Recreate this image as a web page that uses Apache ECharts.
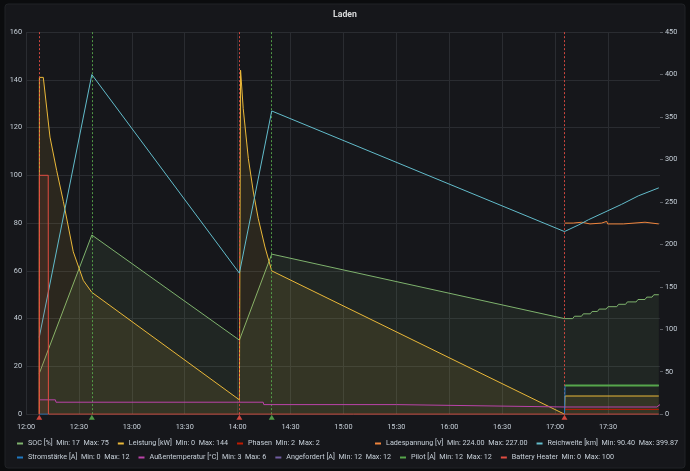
<!DOCTYPE html>
<html>
<head>
<meta charset="utf-8">
<script src="https://cdn.jsdelivr.net/npm/echarts@6/dist/echarts.min.js"></script>
<style>
  html, body { margin: 0; padding: 0; background: #0b0c0e; }
  #chart { width: 690px; height: 471px; }
</style>
</head>
<body>
<div id="chart"></div>
<script>
// times are clock times of the day
var socTime = ['12:07:30', '12:37:20', '14:01:00', '14:19:20', '17:05:20', '17:10:00', '17:11:00', '17:15:00', '17:16:00',
  '17:20:00', '17:21:00', '17:24:00', '17:25:00', '17:29:00', '17:30:00', '17:35:00', '17:36:00', '17:40:00', '17:41:00',
  '17:46:00', '17:47:00', '17:51:00', '17:52:00', '17:55:00', '17:56:00', '17:58:50'];
var socValues = [17, 75, 31, 67, 40, 40, 41, 41, 42, 42, 43, 43, 44, 44, 45, 45, 46, 46, 47, 47, 48, 48, 49, 49, 50, 50];

var leistungTime = ['12:07:30', '12:07:36', '12:09:48', '12:13:36', '12:17:24', '12:21:12', '12:26:48', '12:32:30', '12:37:20',
  '14:01:00', '14:01:40', '14:03:10', '14:06:05', '14:08:55', '14:11:40', '14:15:30', '14:19:20', '17:05:20', '17:05:40', '17:58:50'];
var leistungValues = [0, 141, 141, 116, 102, 89, 68, 56, 51, 6, 144, 128, 107, 93, 82, 70, 60, 0, 7.6, 7.6];

var phasenTime = ['17:05:20', '17:58:50'];
var phasenValues = [2, 2];

var spannungTime = ['17:05:30', '17:10:18', '17:10:48', '17:15:06', '17:15:36', '17:19:48', '17:20:18', '17:26:24', '17:26:54',
  '17:29:18', '17:29:48', '17:38:42', '17:39:12', '17:51:00', '17:51:30', '17:58:48'];
var spannungValues = [225, 225, 226, 226, 224, 224, 225, 225, 227, 227, 224, 224, 226, 226, 224, 224];

var reichweiteTime = ['12:07:30', '12:37:20', '14:01:00', '14:19:20', '17:05:20', '17:13:30', '17:19:00', '17:28:20', '17:37:40', '17:47:10', '17:58:50'];
var reichweiteValues = [90.4, 399.87, 166, 357, 215, 223, 229, 238, 247, 257, 266.5];

var stromTime = ['12:07:30', '12:12:30', '12:13:00', '17:05:20', '17:05:40', '17:58:50'];
var stromValues = [0, 0, null, 0, 12, 12];

var tempTime = ['12:07:30', '12:16:40', '12:17:00', '14:14:30', '14:14:50', '15:30:00', '17:05:20', '17:57:40', '17:59:30'];
var tempValues = [6, 6, 5, 5, 4, 4, 3, 3, 4];

var angefordertTime = ['17:05:40', '17:58:50'];
var angefordertValues = [12, 12];

var pilotTime = ['17:05:40', '17:58:50'];
var pilotValues = [12, 12];

var heaterTime = ['12:07:30', '12:07:36', '12:12:36', '12:12:42', '17:58:50'];
var heaterValues = [0, 100, 100, 0, 0];

// annotations: charging start / end
var annotationTime = ['12:07:30', '12:37:20', '14:01:00', '14:19:20', '17:05:20'];
var annotationKind = ['start', 'end', 'start', 'end', 'start'];

// left axis series flow from the left, right axis series sit at the right end
var legendLeft1 = ['SOC [%]', 'Leistung [kW]', 'Phasen'];
var legendRight1 = ['Ladespannung [V]', 'Reichweite [km]'];
var legendLeft2 = ['Stromstärke [A]', 'Außentemperatur [°C]', 'Angefordert [A]', 'Pilot [A]', 'Battery Heater'];

function tm (s) {
  var p = s.split(':').map(Number);
  return (p[0] - 12) * 60 + p[1] + (p[2] || 0) / 60;
}
function pairs (times, values) {
  return times.map(function (t, i) { return [tm(t), values[i] === null ? '-' : values[i]]; });
}

var defs = [
  { name: 'SOC [%]', t: socTime, v: socValues, color: '#7EB26D', fill: true, axis: 0, dec: 0 },
  { name: 'Leistung [kW]', t: leistungTime, v: leistungValues, color: '#EAB839', fill: true, axis: 0, dec: 0 },
  { name: 'Phasen', t: phasenTime, v: phasenValues, color: '#BF1B00', fill: false, axis: 0, dec: 0 },
  { name: 'Ladespannung [V]', t: spannungTime, v: spannungValues, color: '#EF843C', fill: false, axis: 1, dec: 2 },
  { name: 'Reichweite [km]', t: reichweiteTime, v: reichweiteValues, color: '#62BCCB', fill: false, axis: 1, dec: 2 },
  { name: 'Stromstärke [A]', t: stromTime, v: stromValues, color: '#1F78C1', fill: false, axis: 0, dec: 0 },
  { name: 'Außentemperatur [°C]', t: tempTime, v: tempValues, color: '#BA43A9', fill: false, axis: 0, dec: 0 },
  { name: 'Angefordert [A]', t: angefordertTime, v: angefordertValues, color: '#705DA0', fill: false, axis: 0, dec: 0 },
  { name: 'Pilot [A]', t: pilotTime, v: pilotValues, color: '#56A64B', fill: false, axis: 0, dec: 0, width: 1.8 },
  { name: 'Battery Heater', t: heaterTime, v: heaterValues, color: '#E24D42', fill: true, axis: 0, dec: 0 }
];

var stats = {};
defs.forEach(function (d) {
  var vals = d.v.filter(function (x) { return x !== null; });
  stats[d.name] = 'Min: ' + Math.min.apply(null, vals).toFixed(d.dec) + '  Max: ' + Math.max.apply(null, vals).toFixed(d.dec);
});

var series = defs.map(function (d, i) {
  return {
    name: d.name,
    type: 'line',
    z: 2 + i,
    yAxisIndex: d.axis,
    data: pairs(d.t, d.v),
    symbol: 'none',
    connectNulls: false,
    color: d.color,
    lineStyle: { width: d.width || 1, color: d.color },
    areaStyle: d.fill ? { color: d.color, opacity: 0.1 } : undefined,
    emphasis: { disabled: true }
  };
});

var annColor = { start: 'rgba(226,77,66,0.9)', end: 'rgba(86,166,75,0.9)' };
series[0].markLine = {
  silent: true,
  symbol: 'none',
  label: { show: false },
  data: annotationTime.map(function (t, i) {
    return { xAxis: tm(t), lineStyle: { color: annColor[annotationKind[i]], width: 1, type: [2, 2] } };
  })
};
series[0].markPoint = {
  silent: true,
  symbol: 'triangle',
  symbolSize: [6, 5],
  symbolOffset: [0, 3],
  label: { show: false },
  data: annotationTime.map(function (t, i) {
    return { coord: [tm(t), 0], itemStyle: { color: annColor[annotationKind[i]] } };
  })
};

var gridColor = '#2a2c31';
var labelColor = '#c7d0d9';

function legendRow (names, pos) {
  return Object.assign({
    data: names, padding: 0,
    icon: 'rect', itemWidth: 6, itemHeight: 2, itemGap: 9,
    selectedMode: false,
    textStyle: { color: labelColor, fontSize: 7.2 },
    formatter: function (name) { return name + '  ' + stats[name]; }
  }, pos);
}

var chart = echarts.init(document.getElementById('chart'));
chart.setOption({
  animation: false,
  backgroundColor: '#0b0c0e',
  textStyle: { fontFamily: 'Roboto, sans-serif' },
  graphic: [{
    type: 'rect', z: -10,
    shape: { x: 5, y: 4, width: 680, height: 464, r: 3 },
    style: { fill: '#16171b', stroke: '#202226', lineWidth: 1 }
  }],
  title: {
    text: 'Laden', left: 'center', top: 5,
    textStyle: { fontSize: 8.7, fontWeight: 'bold', color: '#d8d9da', fontFamily: 'Roboto, sans-serif' }
  },
  legend: [
    legendRow(legendLeft1, { left: 17, top: 440 }),
    legendRow(legendRight1, { right: 12, top: 440 }),
    legendRow(legendLeft2, { left: 17, top: 454 })
  ],
  grid: { left: 26, right: 30, top: 32, bottom: 56.84 },
  xAxis: {
    type: 'value', min: 0, max: 359.5, interval: 30,
    axisLine: { show: false }, axisTick: { show: false },
    splitLine: { showMaxLine: false, lineStyle: { color: gridColor } },
    axisLabel: {
      color: labelColor, fontSize: 7.3, margin: 10, showMaxLabel: false,
      formatter: function (v) {
        var h = 12 + Math.floor(v / 60), m = Math.round(v % 60);
        return h + ':' + String(m).padStart(2, '0');
      }
    }
  },
  yAxis: [
    {
      type: 'value', min: 0, max: 160, interval: 20,
      axisLine: { show: false }, axisTick: { show: false },
      splitLine: { lineStyle: { color: gridColor } },
      axisLabel: { color: labelColor, fontSize: 7.3, margin: 4 }
    },
    {
      type: 'value', min: 0, max: 450, interval: 50, position: 'right',
      axisLine: { show: false },
      axisTick: { show: true, length: 3, lineStyle: { color: '#5a5d63' } },
      splitLine: { show: false },
      axisLabel: { color: labelColor, fontSize: 7.3, margin: 5 }
    }
  ],
  series: series
});
</script>
</body>
</html>
